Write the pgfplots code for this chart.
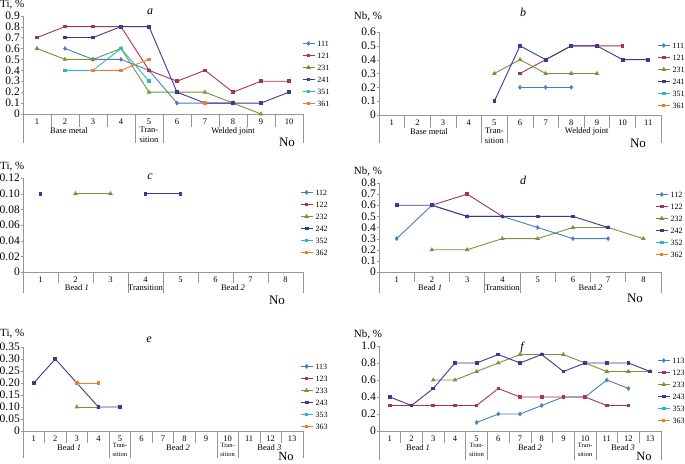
\documentclass[border=0pt]{standalone}
\usepackage{fontspec}
\setmainfont{Liberation Serif}
\usepackage{pgfplots}
\pgfplotsset{compat=1.18}

\definecolor{c1}{RGB}{74,126,187}
\definecolor{c2}{RGB}{165,52,88}
\definecolor{c3}{RGB}{119,147,60}
\definecolor{c4}{RGB}{58,58,145}
\definecolor{c5}{RGB}{45,185,195}
\definecolor{c6}{RGB}{240,125,40}
\definecolor{axgray}{RGB}{150,150,150}

\tikzset{
  seps/.style={axgray, line width=0.6pt},
  glab/.style={font=\fontsize{8.5}{10}\selectfont, inner sep=0pt, align=center},
  slab/.style={font=\fontsize{6.5}{8.5}\selectfont, inner sep=0pt, align=center},
}
\pgfplotsset{
  s1/.style={c1, line width=0.9pt, mark=diamond*, mark size=1.7pt},
  s2/.style={c2, line width=0.9pt, mark=square*, mark size=1.3pt},
  s3/.style={c3, line width=0.9pt, mark=triangle*, mark size=1.8pt},
  s4/.style={c4, line width=0.9pt, mark=square*, mark size=1.4pt},
  s5/.style={c5, line width=0.9pt, mark=square*, mark size=1.3pt},
  s6/.style={c6, line width=0.9pt, mark=square*, mark size=1.2pt},
  panel/.style={
    scale only axis, anchor=south west, clip=false,
    axis lines*=left,
    axis line style={axgray, line width=0.6pt},
    xmin=0.5, ymin=0,
    tick align=outside, major tick length=2pt,
    xtick style={draw=none}, ytick style={axgray},
    /pgf/number format/assume math mode=true,
    yticklabel style={font=\fontsize{11.5}{12}\selectfont, inner sep=1pt},
    xticklabel style={font=\fontsize{8.5}{9}\selectfont, anchor=center, inner sep=0.5pt, yshift=-6pt},
    unbounded coords=jump,
    legend cell align=left,
    legend image code/.code={\draw[mark repeat=2,mark phase=2] plot coordinates {(0pt,0pt)(6pt,0pt)(12pt,0pt)};},
    legend style={draw=none, fill=none, font=\fontsize{8}{9}\selectfont, anchor=north west,
      inner sep=0pt, row sep=5.5pt, column sep=2pt,
      nodes={inner sep=0.5pt, text height=5.5pt, text depth=0pt}},
  },
}

\begin{document}
\begin{tikzpicture}
\useasboundingbox (0pt,0pt) rectangle (685pt,-463pt);

% ---------- a ----------
\begin{axis}[panel, at={(23pt,-114pt)}, width=280pt, height=98.3pt,
  xmax=10.5, ymax=0.9, xtick={1,...,10},
  ytick={0,0.1,0.2,0.3,0.4,0.5,0.6,0.7,0.8,0.9},
  yticklabels={0,0.1,0.2,0.3,0.4,0.5,0.6,0.7,0.8,0.9},
  legend style={at={(0.996,0.753)}}]
\addlegendimage{s1}\addlegendentry{111}
\addlegendimage{s2}\addlegendentry{121}
\addlegendimage{s3}\addlegendentry{231}
\addlegendimage{s4}\addlegendentry{241}
\addlegendimage{s5}\addlegendentry{351}
\addlegendimage{s6}\addlegendentry{361}
\addplot[s1, forget plot] coordinates {(2,0.6)(3,0.5)(4,0.5)(5,0.4)(6,0.1)(7,0.1)(8,0.1)};
\addplot[s2, forget plot] coordinates {(1,0.7)(2,0.8)(3,0.8)(4,0.8)(5,0.4)(6,0.3)(7,0.4)(8,0.2)(9,0.3)(10,0.3)};
\addplot[s3, forget plot] coordinates {(1,0.6)(2,0.5)(3,0.5)(4,0.6)(5,0.2)(6,0.2)(7,0.2)(8,0.1)(9,0.0)};
\addplot[s4, forget plot] coordinates {(2,0.7)(3,0.7)(4,0.8)(5,0.8)(6,0.2)(7,0.1)(8,0.1)(9,0.1)(10,0.2)};
\addplot[s5, forget plot] coordinates {(2,0.4)(3,0.4)(4,0.6)(5,0.3)};
\addplot[s6, forget plot] coordinates {(3,0.4)(4,0.4)(5,0.5)(6,nan)(7,0.1)};
\pgfplotsinvokeforeach{1.5,2.5,3.5,6.5,7.5,8.5,9.5}{\draw[seps] (axis cs:#1,0) -- ++(0pt,-13pt);}
\pgfplotsinvokeforeach{0.5,4.5,5.5,10.5}{\draw[seps] (axis cs:#1,0) -- ++(0pt,-29pt);}
\node[glab] at (axis cs:2.14,0) [yshift=-17pt] {Base metal};
\node[glab, anchor=north] at (axis cs:5,0) [yshift=-12.5pt] {Tran-\\sition};
\node[glab] at (axis cs:8,0) [yshift=-17pt] {Welded joint};
\end{axis}
\node[font=\fontsize{11}{11}\selectfont, anchor=west, inner sep=0pt] at (0pt,-5pt) {Ti, \%};
\node[font=\fontsize{12}{12}\selectfont\itshape] at (150pt,-12pt) {a};
\node[font=\fontsize{13}{13}\selectfont] at (287pt,-142pt) {No};

% ---------- b ----------
\begin{axis}[panel, at={(379pt,-115pt)}, width=282pt, height=83pt,
  xmax=11.5, ymax=0.6, xtick={1,...,11},
  ytick={0,0.1,0.2,0.3,0.4,0.5,0.6},
  yticklabels={0,0.1,0.2,0.3,0.4,0.5,0.6},
  legend style={at={(0.986,0.88)}}]
\addlegendimage{s1}\addlegendentry{111}
\addlegendimage{s2}\addlegendentry{121}
\addlegendimage{s3}\addlegendentry{231}
\addlegendimage{s4}\addlegendentry{241}
\addlegendimage{s5}\addlegendentry{351}
\addlegendimage{s6}\addlegendentry{361}
\addplot[s1, forget plot] coordinates {(6,0.2)(7,0.2)(8,0.2)};
\addplot[s2, forget plot] coordinates {(6,0.3)(7,0.4)(8,0.5)(9,0.5)(10,0.5)};
\addplot[s3, forget plot] coordinates {(5,0.3)(6,0.4)(7,0.3)(8,0.3)(9,0.3)};
\addplot[s4, forget plot] coordinates {(5,0.1)(6,0.5)(7,0.4)(8,0.5)(9,0.5)(10,0.4)(11,0.4)};
\pgfplotsinvokeforeach{1.5,2.5,3.5,6.5,7.5,8.5,9.5,10.5}{\draw[seps] (axis cs:#1,0) -- ++(0pt,-13pt);}
\pgfplotsinvokeforeach{0.5,4.5,5.5,11.5}{\draw[seps] (axis cs:#1,0) -- ++(0pt,-28pt);}
\node[glab] at (axis cs:2.45,0) [yshift=-16.5pt] {Base metal};
\node[glab, anchor=north] at (axis cs:5,0) [yshift=-12.5pt] {Tran-\\sition};
\node[glab] at (axis cs:8.6,0) [yshift=-16.5pt] {Welded joint};
\end{axis}
\node[font=\fontsize{11}{11}\selectfont] at (368pt,-17pt) {Nb, \%};
\node[font=\fontsize{12}{12}\selectfont\itshape] at (523pt,-12pt) {b};
\node[font=\fontsize{13}{13}\selectfont] at (638pt,-143pt) {No};

% ---------- c ----------
\begin{axis}[panel, at={(23pt,-272pt)}, width=280pt, height=94pt,
  xmax=8.5, ymax=0.12, xtick={1,...,8},
  ytick={0,0.02,0.04,0.06,0.08,0.10,0.12},
  yticklabels={0,0.02,0.04,0.06,0.08,0.10,0.12},
  legend style={at={(0.989,0.883)}}]
\addlegendimage{s1}\addlegendentry{112}
\addlegendimage{s2}\addlegendentry{122}
\addlegendimage{s3}\addlegendentry{232}
\addlegendimage{s4}\addlegendentry{242}
\addlegendimage{s5}\addlegendentry{352}
\addlegendimage{s6}\addlegendentry{362}
\addplot[s3, forget plot] coordinates {(2,0.1)(3,0.1)};
\addplot[s4, forget plot] coordinates {(1,0.1)(2,nan)(3,nan)(4,0.1)(5,0.1)};
\pgfplotsinvokeforeach{1.5,2.5,5.5,6.5,7.5}{\draw[seps] (axis cs:#1,0) -- ++(0pt,-11pt);}
\pgfplotsinvokeforeach{0.5,3.5,4.5,8.5}{\draw[seps] (axis cs:#1,0) -- ++(0pt,-21pt);}
\node[glab] at (axis cs:2.04,0) [yshift=-16pt] {Bead \textit{1}};
\node[glab] at (axis cs:4,0) [yshift=-16pt] {Transition};
\node[glab] at (axis cs:6.5,0) [yshift=-16pt] {Bead \textit{2}};
\end{axis}
\node[font=\fontsize{11}{11}\selectfont, anchor=west, inner sep=0pt] at (0pt,-167pt) {Ti, \%};
\node[font=\fontsize{12}{12}\selectfont\itshape] at (150pt,-177pt) {c};
\node[font=\fontsize{13}{13}\selectfont] at (277pt,-300pt) {No};

% ---------- d ----------
\begin{axis}[panel, at={(379pt,-272pt)}, width=282pt, height=89pt,
  xmax=8.5, ymax=0.8, xtick={1,...,8},
  ytick={0,0.1,0.2,0.3,0.4,0.5,0.6,0.7,0.8},
  yticklabels={0,0.1,0.2,0.3,0.4,0.5,0.6,0.7,0.8},
  legend style={at={(0.979,0.91)}}]
\addlegendimage{s1}\addlegendentry{112}
\addlegendimage{s2}\addlegendentry{122}
\addlegendimage{s3}\addlegendentry{232}
\addlegendimage{s4}\addlegendentry{242}
\addlegendimage{s5}\addlegendentry{352}
\addlegendimage{s6}\addlegendentry{362}
\addplot[s1, forget plot] coordinates {(1,0.3)(2,0.6)(3,0.5)(4,0.5)(5,0.4)(6,0.3)(7,0.3)};
\addplot[s2, forget plot] coordinates {(2,0.6)(3,0.7)(4,0.5)};
\addplot[s3, forget plot] coordinates {(2,0.2)(3,0.2)(4,0.3)(5,0.3)(6,0.4)(7,0.4)(8,0.3)};
\addplot[s4, forget plot] coordinates {(1,0.6)(2,0.6)(3,0.5)(4,0.5)(5,0.5)(6,0.5)(7,0.4)};
\pgfplotsinvokeforeach{1.5,2.5,5.5,6.5,7.5}{\draw[seps] (axis cs:#1,0) -- ++(0pt,-10pt);}
\pgfplotsinvokeforeach{0.5,3.5,4.5,8.5}{\draw[seps] (axis cs:#1,0) -- ++(0pt,-21pt);}
\node[glab] at (axis cs:1.95,0) [yshift=-15.5pt] {Bead \textit{1}};
\node[glab] at (axis cs:4,0) [yshift=-15.5pt] {Transition};
\node[glab] at (axis cs:6.5,0) [yshift=-15.5pt] {Bead \textit{2}};
\end{axis}
\node[font=\fontsize{11}{11}\selectfont] at (368pt,-172pt) {Nb, \%};
\node[font=\fontsize{12}{12}\selectfont\itshape] at (523pt,-180pt) {d};
\node[font=\fontsize{13}{13}\selectfont] at (635pt,-298pt) {No};

% ---------- e ----------
\begin{axis}[panel, at={(23pt,-431pt)}, width=280pt, height=84pt,
  xmax=13.5, ymax=0.35, xtick={1,...,13},
  ytick={0,0.05,0.10,0.15,0.20,0.25,0.30,0.35},
  yticklabels={0,0.05,0.10,0.15,0.20,0.25,0.30,0.35},
  legend style={at={(0.989,0.81)}}]
\addlegendimage{s1}\addlegendentry{113}
\addlegendimage{s2}\addlegendentry{123}
\addlegendimage{s3}\addlegendentry{233}
\addlegendimage{s4}\addlegendentry{243}
\addlegendimage{s5}\addlegendentry{353}
\addlegendimage{s6}\addlegendentry{363}
\addplot[s3, forget plot] coordinates {(3,0.1)(4,0.1)};
\addplot[s4, forget plot] coordinates {(1,0.2)(2,0.3)(3,0.2)(4,0.1)(5,0.1)};
\addplot[s6, forget plot] coordinates {(3,0.2)(4,0.2)};
\pgfplotsinvokeforeach{1.5,2.5,3.5,6.5,7.5,8.5,11.5,12.5}{\draw[seps] (axis cs:#1,0) -- ++(0pt,-12pt);}
\pgfplotsinvokeforeach{0.5,4.5,5.5,9.5,10.5,13.5}{\draw[seps] (axis cs:#1,0) -- ++(0pt,-27pt);}
\node[glab] at (axis cs:2.64,0) [yshift=-17pt] {Bead \textit{1}};
\node[slab, anchor=north] at (axis cs:5,0) [yshift=-12.5pt] {Tran-\\sition};
\node[glab] at (axis cs:7.7,0) [yshift=-17pt] {Bead \textit{2}};
\node[slab, anchor=north] at (axis cs:10,0) [yshift=-12.5pt] {Tran-\\sition};
\node[glab] at (axis cs:11.94,0) [yshift=-17pt] {Bead \textit{3}};
\end{axis}
\node[font=\fontsize{11}{11}\selectfont, anchor=west, inner sep=0pt] at (0pt,-334pt) {Ti, \%};
\node[font=\fontsize{12}{12}\selectfont\itshape] at (149pt,-340pt) {e};
\node[font=\fontsize{12.5}{12.5}\selectfont] at (286pt,-456pt) {No};

% ---------- f ----------
\begin{axis}[panel, at={(379pt,-431pt)}, width=282pt, height=85pt,
  xmax=13.5, ymax=1.0, xtick={1,...,13},
  ytick={0,0.2,0.4,0.6,0.8,1.0},
  yticklabels={0,0.2,0.4,0.6,0.8,1.0},
  legend style={at={(0.986,0.87)}}]
\addlegendimage{s1}\addlegendentry{113}
\addlegendimage{s2}\addlegendentry{123}
\addlegendimage{s3}\addlegendentry{233}
\addlegendimage{s4}\addlegendentry{243}
\addlegendimage{s5}\addlegendentry{353}
\addlegendimage{s6}\addlegendentry{363}
\addplot[s1, forget plot] coordinates {(5,0.1)(6,0.2)(7,0.2)(8,0.3)(9,0.4)(10,0.4)(11,0.6)(12,0.5)};
\addplot[s2, forget plot] coordinates {(1,0.3)(2,0.3)(3,0.3)(4,0.3)(5,0.3)(6,0.5)(7,0.4)(8,0.4)(9,0.4)(10,0.4)(11,0.3)(12,0.3)};
\addplot[s3, forget plot] coordinates {(3,0.6)(4,0.6)(5,0.7)(6,0.8)(7,0.9)(8,0.9)(9,0.9)(10,0.8)(11,0.7)(12,0.7)(13,0.7)};
\addplot[s4, forget plot] coordinates {(1,0.4)(2,0.3)(3,0.5)(4,0.8)(5,0.8)(6,0.9)(7,0.8)(8,0.9)(9,0.7)(10,0.8)(11,0.8)(12,0.8)(13,0.7)};
\pgfplotsinvokeforeach{1.5,2.5,3.5,6.5,7.5,8.5,11.5,12.5}{\draw[seps] (axis cs:#1,0) -- ++(0pt,-12pt);}
\pgfplotsinvokeforeach{0.5,4.5,5.5,9.5,10.5,13.5}{\draw[seps] (axis cs:#1,0) -- ++(0pt,-29pt);}
\node[glab] at (axis cs:2.3,0) [yshift=-17pt] {Bead \textit{1}};
\node[slab, anchor=north] at (axis cs:5,0) [yshift=-12.5pt] {Tran-\\sition};
\node[glab] at (axis cs:7.46,0) [yshift=-17pt] {Bead \textit{2}};
\node[slab, anchor=north] at (axis cs:10,0) [yshift=-12.5pt] {Tran-\\sition};
\node[glab] at (axis cs:11.75,0) [yshift=-17pt] {Bead \textit{3}};
\end{axis}
\node[font=\fontsize{11}{11}\selectfont] at (368pt,-335pt) {Nb, \%};
\node[font=\fontsize{12}{12}\selectfont\itshape] at (522pt,-348pt) {f};
\node[font=\fontsize{12.5}{12.5}\selectfont] at (644pt,-456pt) {No};
\end{tikzpicture}
\end{document}
